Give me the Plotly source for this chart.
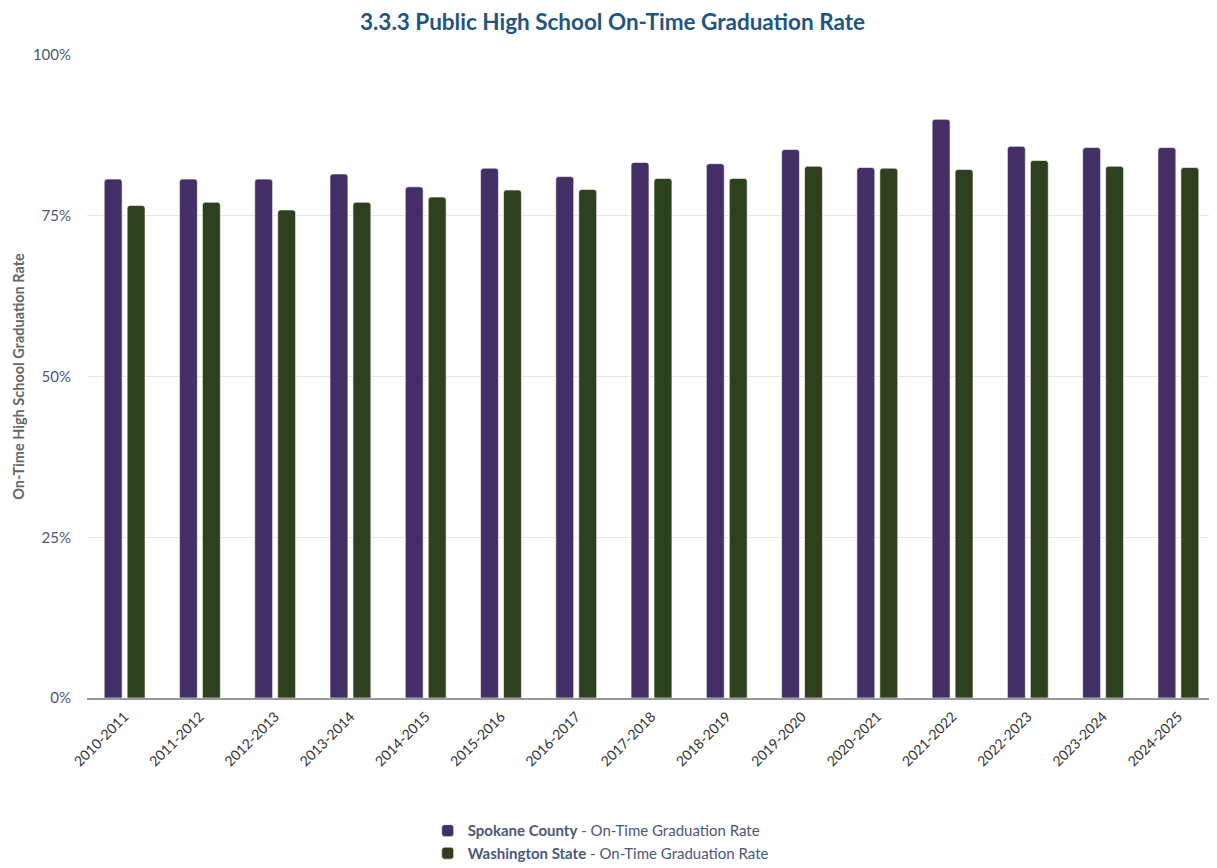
import plotly.graph_objects as go

# School years on the x axis
years = ['2010-2011', '2011-2012', '2012-2013', '2013-2014', '2014-2015',
         '2015-2016', '2016-2017', '2017-2018', '2018-2019', '2019-2020',
         '2020-2021', '2021-2022', '2022-2023', '2023-2024', '2024-2025']

# On-time graduation rate (%)
spokane = [80.7, 80.7, 80.7, 81.5, 79.5, 82.4, 81.1, 83.3, 83.1, 85.3,
           82.5, 90.0, 85.8, 85.6, 85.6]
washington = [76.6, 77.1, 75.9, 77.1, 77.9, 79.0, 79.1, 80.8, 80.8, 82.7,
              82.4, 82.2, 83.6, 82.7, 82.5]

y_ticks = [0, 25, 50, 75, 100]
y_labels = [f'{v}%' for v in y_ticks]

fig = go.Figure()
fig.add_trace(go.Bar(
    x=years, y=spokane,
    name='<b>Spokane County</b> - On-Time Graduation Rate',
    marker=dict(color='#432f66', line=dict(color='#ffffff', width=0.6), cornerradius=3),
))
fig.add_trace(go.Bar(
    x=years, y=washington,
    name='<b>Washington State</b> - On-Time Graduation Rate',
    marker=dict(color='#2e411e', line=dict(color='#ffffff', width=0.6), cornerradius=3),
))

# page body has an 8px margin, so the figure is sized to fit the window
fig.update_layout(
    width=1209, height=860,
    template='plotly_white',
    font=dict(family='Lato, Noto Sans, sans-serif'),
    title=dict(text='<b>3.3.3 Public High School On-Time Graduation Rate</b>',
               x=0.5, xref='container', xanchor='center',
               y=0.984, yanchor='middle',
               font=dict(size=22.5, color='#1f5582')),
    barmode='group', bargap=0.39, bargroupgap=0.22,
    margin=dict(l=79, r=1, t=47, b=170, autoexpand=False),
    plot_bgcolor='white', paper_bgcolor='white',
    legend=dict(orientation='v', x=0.455, xanchor='center',
                y=-0.181, yanchor='top',
                font=dict(size=15, color='#4a5878'), itemwidth=30),
    showlegend=True,
)

fig.update_yaxes(
    range=[0, 100], tickmode='array', tickvals=y_ticks, ticktext=y_labels,
    tickfont=dict(size=15, color='#4a5878'), ticklabelstandoff=15,
    gridcolor='#e6e6e6', gridwidth=1, zeroline=False,
    title=dict(text='<b>On-Time High School Graduation Rate</b>',
               font=dict(size=14.5, color='#666666'), standoff=4),
    ticks='', showline=False,
)
fig.update_xaxes(
    tickangle=-45, tickfont=dict(size=14, color='#333333'), ticklabelstandoff=3,
    showline=True, linecolor='#999999', linewidth=2,
    showgrid=False, ticks='',
)

fig.write_html('out.html')
